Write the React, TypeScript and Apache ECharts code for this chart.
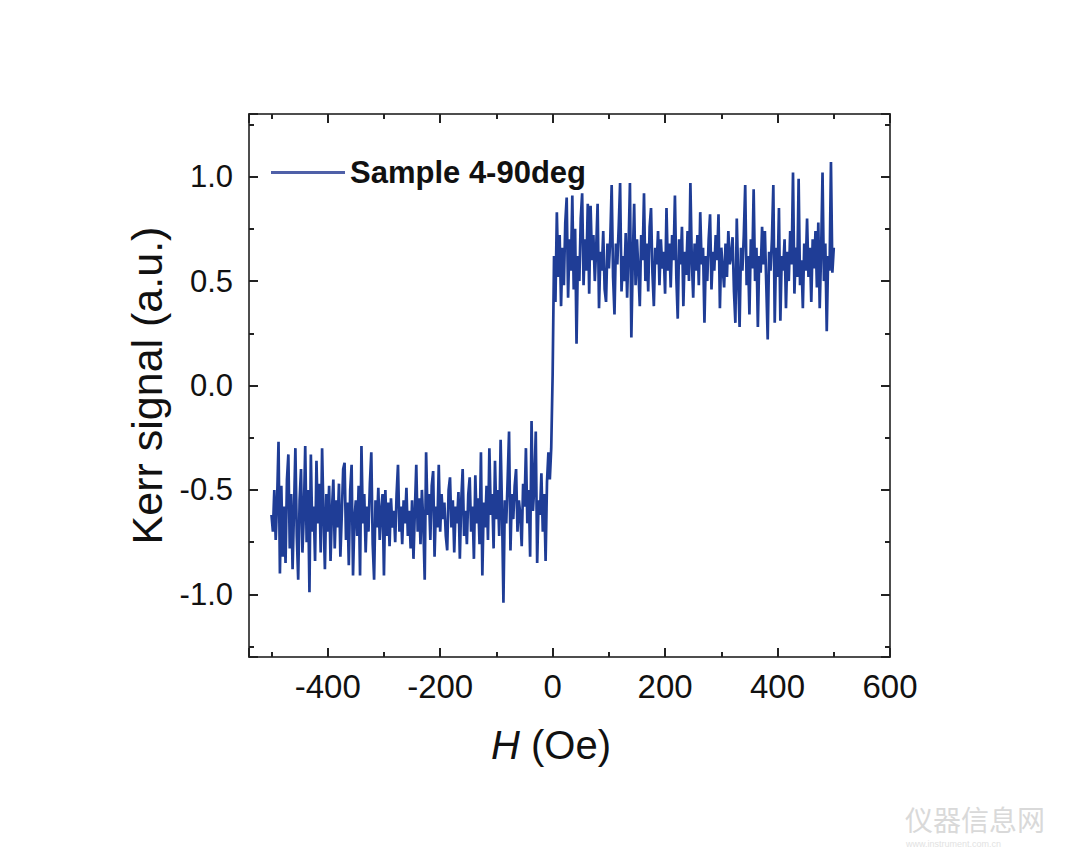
import React, { useEffect, useRef } from "react";
import * as echarts from "echarts";

// Field sweep grid (Oe)
const H_START = -500;
const H_STEP = 2.5;

// Kerr signal, negative-field branch, H = -500 ... -2.5
const kerrNegative = [
  -0.62, -0.7, -0.5, -0.74, -0.55, -0.27, -0.9, -0.48, -0.82, -0.58, -0.85, -0.45, -0.33, -0.78, -0.52, -0.88, -0.6, -0.3, -0.72, -0.93,
  -0.55, -0.4, -0.8, -0.62, -0.29, -0.75, -0.5, -0.99, -0.33, -0.7, -0.58, -0.84, -0.36, -0.66, -0.47, -0.8, -0.3, -0.62, -0.88, -0.52,
  -0.7, -0.48, -0.84, -0.6, -0.45, -0.78, -0.55, -0.68, -0.47, -0.82, -0.62, -0.4, -0.37, -0.74, -0.56, -0.86, -0.5, -0.38, -0.91, -0.64,
  -0.55, -0.72, -0.48, -0.91, -0.29, -0.66, -0.52, -0.8, -0.58, -0.7, -0.47, -0.32, -0.76, -0.93, -0.55, -0.68, -0.49, -0.74, -0.6, -0.52,
  -0.91, -0.5, -0.72, -0.56, -0.77, -0.54, -0.68, -0.6, -0.75, -0.52, -0.38, -0.7, -0.58, -0.76, -0.55, -0.66, -0.49, -0.72, -0.6, -0.78,
  -0.55, -0.83, -0.6, -0.38, -0.7, -0.54, -0.76, -0.5, -0.66, -0.93, -0.32, -0.62, -0.52, -0.74, -0.48, -0.41, -0.82, -0.58, -0.68, -0.38,
  -0.7, -0.52, -0.64, -0.56, -0.72, -0.79, -0.5, -0.44, -0.68, -0.55, -0.8, -0.58, -0.66, -0.51, -0.83, -0.55, -0.4, -0.72, -0.6, -0.76,
  -0.52, -0.44, -0.7, -0.58, -0.83, -0.43, -0.66, -0.54, -0.76, -0.32, -0.91, -0.56, -0.68, -0.48, -0.74, -0.3, -0.62, -0.52, -0.78, -0.36,
  -0.64, -0.5, -0.72, -0.26, -0.6, -1.04, -0.55, -0.66, -0.45, -0.22, -0.79, -0.52, -0.64, -0.48, -0.4, -0.7, -0.55, -0.62, -0.77, -0.47,
  -0.58, -0.3, -0.66, -0.5, -0.82, -0.17, -0.6, -0.48, -0.22, -0.85, -0.55, -0.62, -0.42, -0.7, -0.52, -0.84, -0.46, -0.32, -0.45, -0.3,
];

// Kerr signal at H = 0
const kerrZero = [0.05];

// Kerr signal, positive-field branch, H = 2.5 ... 500
const kerrPositive = [
  0.62, 0.4, 0.83, 0.52, 0.72, 0.38, 0.66, 0.48, 0.78, 0.9, 0.42, 0.7, 0.55, 0.91, 0.46, 0.75, 0.2, 0.62, 0.5, 0.8,
  0.92, 0.48, 0.7, 0.55, 0.87, 0.44, 0.86, 0.6, 0.72, 0.5, 0.66, 0.87, 0.37, 0.64, 0.55, 0.74, 0.46, 0.4, 0.68, 0.56,
  0.7, 0.96, 0.52, 0.34, 0.68, 0.58, 0.76, 0.97, 0.45, 0.62, 0.5, 0.73, 0.42, 0.66, 0.97, 0.23, 0.6, 0.87, 0.48, 0.7,
  0.55, 0.38, 0.72, 0.6, 0.92, 0.5, 0.68, 0.45, 0.76, 0.85, 0.54, 0.38, 0.66, 0.58, 0.74, 0.48, 0.7, 0.56, 0.64, 0.44,
  0.85, 0.55, 0.68, 0.47, 0.72, 0.6, 0.91, 0.52, 0.32, 0.7, 0.58, 0.76, 0.38, 0.64, 0.53, 0.74, 0.5, 0.97, 0.6, 0.42,
  0.68, 0.55, 0.72, 0.48, 0.83, 0.58, 0.66, 0.3, 0.62, 0.5, 0.7, 0.82, 0.46, 0.64, 0.55, 0.72, 0.6, 0.82, 0.37, 0.66,
  0.56, 0.47, 0.68, 0.52, 0.74, 0.58, 0.62, 0.71, 0.45, 0.3, 0.8, 0.52, 0.28, 0.66, 0.55, 0.72, 0.96, 0.48, 0.62, 0.34,
  0.7, 0.56, 0.94, 0.5, 0.66, 0.28, 0.62, 0.54, 0.76, 0.58, 0.74, 0.48, 0.22, 0.64, 0.55, 0.7, 0.96, 0.3, 0.66, 0.52,
  0.85, 0.31, 0.62, 0.55, 0.7, 0.37, 0.64, 0.5, 0.74, 0.58, 1.02, 0.44, 0.66, 0.52, 0.99, 0.48, 0.6, 0.37, 0.68, 0.55,
  0.8, 0.52, 0.66, 0.4, 0.7, 0.56, 0.74, 0.47, 0.78, 0.37, 0.64, 1.02, 0.5, 0.68, 0.26, 0.62, 0.55, 1.07, 0.54, 0.66,
];

const X_MIN = -540;
const X_MAX = 600;
const Y_MIN = -1.3;
const Y_MAX = 1.3;
const SERIES_NAME = "Sample 4-90deg";
const LINE_COLOR = "#1f3d96";
const AXIS_COLOR = "#4d4d4d";
const FONT = "'Liberation Sans', Arial, Helvetica, sans-serif";

const kerrAll = [...kerrNegative, ...kerrZero, ...kerrPositive];
const seriesData = kerrAll.map((v, i) => [H_START + i * H_STEP, v]);

const xLabel = (v: number) => {
  const r = Math.round(v);
  if (Math.abs(v - r) > 1e-6) return "";
  if (r % 200 !== 0 || r < -400 || r > 600) return "";
  return String(r);
};
const yLabel = (v: number) => {
  const d = v * 2;
  if (Math.abs(d - Math.round(d)) > 1e-6) return "";
  if (v < -1.01 || v > 1.01) return "";
  return v.toFixed(1);
};

function makeXAxis(pos: "bottom" | "top", showLabel: boolean, extra: any = {}) {
  return {
    type: "value",
    position: pos,
    min: X_MIN,
    max: X_MAX,
    splitNumber: 6,
    axisLine: { show: true, onZero: false, lineStyle: { color: AXIS_COLOR, width: 2 } },
    axisTick: { show: true, inside: true, length: 9, lineStyle: { color: "#222", width: 2 } },
    minorTick: { show: true, splitNumber: 2, length: 5, lineStyle: { color: "#222", width: 2 } },
    splitLine: { show: false },
    minorSplitLine: { show: false },
    axisLabel: {
      show: showLabel,
      formatter: xLabel,
      color: "#111",
      fontSize: 33,
      fontFamily: FONT,
      margin: 13,
      showMinLabel: true,
      showMaxLabel: true,
      hideOverlap: false,
    },
    ...extra,
  };
}

function makeYAxis(pos: "left" | "right", showLabel: boolean, extra: any = {}) {
  return {
    type: "value",
    position: pos,
    min: Y_MIN,
    max: Y_MAX,
    splitNumber: 5,
    axisLine: { show: true, onZero: false, lineStyle: { color: AXIS_COLOR, width: 2 } },
    axisTick: { show: true, inside: true, length: 9, lineStyle: { color: "#222", width: 2 } },
    minorTick: { show: true, splitNumber: 2, length: 5, lineStyle: { color: "#222", width: 2 } },
    splitLine: { show: false },
    minorSplitLine: { show: false },
    axisLabel: {
      show: showLabel,
      formatter: yLabel,
      color: "#111",
      fontSize: 31,
      fontFamily: FONT,
      margin: 16,
      hideOverlap: false,
    },
    ...extra,
  };
}

export default function App() {
  const ref = useRef<HTMLDivElement>(null);
  useEffect(() => {
    document.body.style.margin = "0";
    if (!ref.current) return;
    const chart = echarts.init(ref.current, null, { renderer: "svg" });
    chart.setOption({
      animation: false,
      backgroundColor: "#ffffff",
      grid: {
        left: 249,
        right: 190,
        top: 114,
        bottom: 195,
        containLabel: false,
        outerBoundsMode: "none",
      },
      legend: {
        show: true,
        left: 266,
        top: 152,
        itemWidth: 74,
        itemHeight: 3,
        icon: "rect",
        data: [SERIES_NAME],
        itemStyle: { color: "#4f60a8" },
        textStyle: {
          color: "#111",
          fontSize: 31,
          fontWeight: "bold",
          fontFamily: FONT,
        },
        selectedMode: false,
      },
      xAxis: [
        makeXAxis("bottom", true, {
          name: "{i|H} (Oe)",
          nameLocation: "middle",
          nameGap: 68,
          nameTextStyle: {
            color: "#111",
            fontSize: 40,
            fontFamily: FONT,
            padding: [0, 37, 0, 0],
            rich: {
              i: { fontStyle: "italic", fontSize: 40, fontFamily: FONT, color: "#111" },
            },
          },
        }),
        makeXAxis("top", false),
      ],
      yAxis: [
        makeYAxis("left", true, {
          name: "Kerr signal (a.u.)",
          nameLocation: "middle",
          nameGap: 80,
          nameTextStyle: { color: "#111", fontSize: 43, fontFamily: FONT },
        }),
        makeYAxis("right", false),
      ],
      series: [
        {
          name: SERIES_NAME,
          type: "line",
          xAxisIndex: 0,
          yAxisIndex: 0,
          data: seriesData,
          showSymbol: false,
          symbol: "none",
          lineStyle: { color: LINE_COLOR, width: 2.7 },
          itemStyle: { color: LINE_COLOR },
          emphasis: { disabled: true },
        },
      ],
      graphic: [
        {
          type: "text",
          left: 905,
          top: 805,
          style: {
            text: "仪器信息网",
            fill: "#d9d9d9",
            fontSize: 28,
            fontFamily: "'Noto Sans CJK SC', sans-serif",
          },
        },
        {
          type: "text",
          left: 906,
          top: 839,
          style: {
            text: "www.instrument.com.cn",
            fill: "#e2e2e2",
            fontSize: 9,
            fontFamily: FONT,
          },
        },
      ],
    });
    return () => chart.dispose();
  }, []);
  return <div ref={ref} style={{ width: 1080, height: 852 }} />;
}
